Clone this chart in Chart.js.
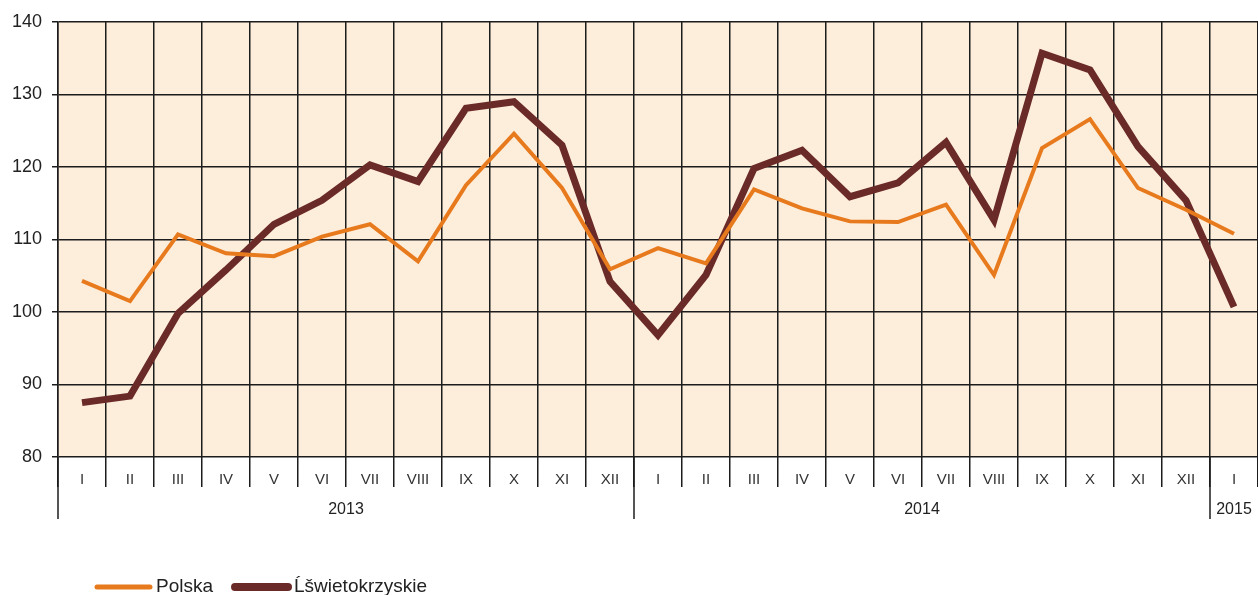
<!DOCTYPE html>
<html>
<head>
    <title>Polska / Świętokrzyskie</title>
    <style>
        body, html {
            margin: 0;
            background-color: #ffffff;
        }
        #wrap {
            width: 1258px;
            height: 595px;
        }
    </style>
</head>
<body>
    <div id="wrap"><canvas id="myChart"></canvas></div>
    <script src="https://cdn.jsdelivr.net/npm/chart.js"></script>
    <script>
        // months I 2013 .. I 2015
        const months = ['I', 'II', 'III', 'IV', 'V', 'VI', 'VII', 'VIII', 'IX', 'X', 'XI', 'XII',
                        'I', 'II', 'III', 'IV', 'V', 'VI', 'VII', 'VIII', 'IX', 'X', 'XI', 'XII',
                        'I'];
        const years = ['2013', '2014', '2015'];
        const yearMonths = [12, 12, 1];

        const polska = [104.3, 101.5, 110.7, 108.1, 107.7, 110.4, 112.1, 107.0, 117.5, 124.6, 117.1, 105.9,
                        108.8, 106.7, 116.9, 114.3, 112.5, 112.4, 114.8, 105.1, 122.6, 126.6, 117.1, 114.1,
                        110.8];
        const swietokrzyskie = [87.5, 88.4, 99.8, 105.8, 112.1, 115.4, 120.3, 118.0, 128.1, 129.0, 123.0, 104.2,
                                96.8, 105.1, 119.8, 122.3, 115.9, 117.8, 123.4, 112.7, 135.7, 133.4, 122.8, 115.4,
                                100.7];

        const gridColor = '#1c1c1c';
        const fontFamily = '"Liberation Sans", Arial, sans-serif';

        // peach plot background
        const plotBackground = {
            id: 'plotBackground',
            beforeDraw(chart) {
                const {ctx, chartArea: a} = chart;
                ctx.save();
                ctx.fillStyle = '#fdeddb';
                ctx.fillRect(a.left, a.top, a.right - a.left, a.bottom - a.top);
                ctx.restore();
            }
        };

        // second row of the x axis: years with long separators
        const yearAxis = {
            id: 'yearAxis',
            afterDraw(chart) {
                const {ctx} = chart;
                const x = chart.scales.x;
                const half = (x.getPixelForValue(1) - x.getPixelForValue(0)) / 2;
                ctx.save();
                ctx.strokeStyle = gridColor;
                ctx.lineWidth = 1.5;
                ctx.fillStyle = '#222';
                ctx.font = '16px ' + fontFamily;
                ctx.textAlign = 'center';
                ctx.textBaseline = 'middle';
                let start = 0;
                years.forEach((y, i) => {
                    const end = start + yearMonths[i] - 1;
                    const x0 = x.getPixelForValue(start) - half;
                    const x1 = x.getPixelForValue(end) + half;
                    ctx.beginPath();
                    ctx.moveTo(x0, x.top);
                    ctx.lineTo(x0, x.top + 62);
                    ctx.stroke();
                    ctx.fillText(y, (x0 + x1) / 2, x.top + 53);
                    start += yearMonths[i];
                });
                ctx.restore();
            }
        };

        // legend drawn at lower left
        const bottomLegend = {
            id: 'bottomLegend',
            afterDraw(chart) {
                const {ctx} = chart;
                const y = 587;
                let cx = 97;
                ctx.save();
                ctx.font = '19px ' + fontFamily;
                ctx.textBaseline = 'middle';
                ctx.lineCap = 'round';
                chart.data.datasets.forEach(ds => {
                    ctx.strokeStyle = ds.borderColor;
                    ctx.lineWidth = ds.borderWidth + 1;
                    ctx.beginPath();
                    ctx.moveTo(cx, y);
                    ctx.lineTo(cx + 53, y);
                    ctx.stroke();
                    ctx.fillStyle = '#222';
                    ctx.fillText(ds.label, cx + 59, y);
                    cx += 59 + ctx.measureText(ds.label).width + 22;
                });
                ctx.restore();
            }
        };

        const ctx = document.getElementById('myChart').getContext('2d');
        new Chart(ctx, {
            type: 'line',
            data: {
                labels: months,
                datasets: [{
                    label: 'Polska',
                    data: polska,
                    borderColor: '#e87a1e',
                    backgroundColor: '#e87a1e',
                    borderWidth: 4,
                    pointRadius: 0,
                    tension: 0
                }, {
                    label: 'Świetokrzyskie',
                    data: swietokrzyskie,
                    borderColor: '#6a2a27',
                    backgroundColor: '#6a2a27',
                    borderWidth: 7,
                    pointRadius: 0,
                    tension: 0
                }]
            },
            options: {
                responsive: true,
                maintainAspectRatio: false,
                animation: false,
                layout: { padding: { top: 22, right: 0, left: 0, bottom: 0 } },
                plugins: {
                    legend: { display: false },
                    tooltip: { enabled: false }
                },
                scales: {
                    x: {
                        offset: true,
                        grid: { offset: true, color: gridColor, lineWidth: 1.5, tickLength: 30 },
                        border: { display: false },
                        ticks: {
                            autoSkip: false,
                            maxRotation: 0,
                            padding: -16,
                            color: '#333',
                            font: { size: 15, family: fontFamily }
                        },
                        afterFit(scale) { scale.height = 138; }
                    },
                    y: {
                        min: 80,
                        max: 140,
                        grid: { color: gridColor, lineWidth: 1.5, tickLength: 6 },
                        border: { color: gridColor, width: 1.5 },
                        ticks: {
                            stepSize: 10,
                            padding: 10,
                            color: '#222',
                            font: { size: 18, family: fontFamily }
                        },
                        afterFit(scale) { scale.width = 58; }
                    }
                }
            },
            plugins: [plotBackground, yearAxis, bottomLegend]
        });
    </script>
</body>
</html>
